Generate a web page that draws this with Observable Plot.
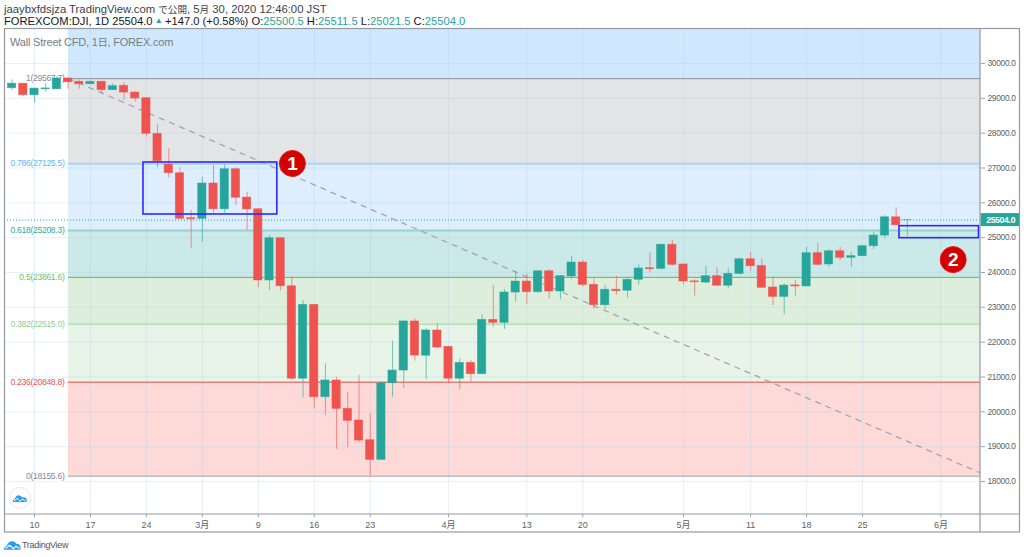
<!DOCTYPE html>
<html><head><meta charset="utf-8">
<script src="https://cdn.jsdelivr.net/npm/d3@7"></script>
<script src="https://cdn.jsdelivr.net/npm/@observablehq/plot@0.6"></script>
<style>
html,body{margin:0;padding:0;background:#fff;}
#wrap{position:relative;width:1024px;height:557px;overflow:hidden;font-family:"Liberation Sans","Noto Sans CJK JP",sans-serif;}
#wrap svg{position:absolute;left:0;top:0;}
.h{position:absolute;white-space:nowrap;}
.t{color:#26a69a;}
.j{font-size:9.6px;}
#chart g[aria-label="text"] text{letter-spacing:-0.3px;}
#chart g[aria-label="y-axis tick label"] text{letter-spacing:-0.3px;}
</style></head><body>
<div id="wrap">
<div class="h" style="left:4px;top:2px;font-size:11.3px;line-height:14px;color:#3c3f48;">jaaybxfdsjza TradingView.com <span class="j">で公開</span>, 5<span class="j">月</span> 30, 2020 12:46:00 JST</div>
<div class="h" style="left:4px;top:14px;font-size:11.2px;line-height:14px;color:#131722;">FOREXCOM:DJI, 1D 25504.0<span class="t" style="font-size:8px;vertical-align:2px;"> ▲ </span>+147.0 (+0.58%) O:<span class="t">25500.5</span> H:<span class="t">25511.5</span> L:<span class="t">25021.5</span> C:<span class="t">25504.0</span></div>
<div id="chart"></div>
<div class="h" style="left:10px;top:35px;font-size:11px;letter-spacing:-0.2px;line-height:14px;color:#787b86;z-index:3;">Wall Street CFD, 1<span style="font-size:10px">日</span>, FOREX.com</div>
<svg width="1024" height="557" style="z-index:3;pointer-events:none;">
  <g fill="none" stroke="#9598a1" stroke-width="1.2">
    <rect x="4.5" y="28.5" width="1015" height="503.5"/>
    <path d="M980 28.5V532M4.5 514H1019.5"/>
  </g>
  <circle cx="20" cy="498" r="10.5" fill="#fff" stroke="#e6e9ee"/>
  <path d="M12.7 502 q0 -2.5 2.2 -3.2 q1.2 -3.8 4.6 -3.4 q2 .2 2.8 2.2 q1.5 -.8 2.8 0 q2 1 1.8 4.4 z" fill="#2e9bf0"/>
  <path d="M14 501 l3.2 -2.6 3 2.8 2.2 -2.2 3 2" fill="none" stroke="#fff" stroke-width="1"/>
  <path d="M4 549.8 q-.2 -3 2.8 -4 q1.6 -5 6 -4.6 q2.6 .3 3.6 2.8 q1.6 -.6 2.8 .6 q1.6 1.6 1.4 5.2 z" fill="#2e9bf0"/>
  <path d="M5.5 548.5 l4 -3.2 3.8 3.4 2.6 -2.6 3.6 2.4" fill="none" stroke="#fff" stroke-width="1.1"/>
</svg>
<div class="h" style="left:22px;top:538px;font-size:9px;letter-spacing:-0.3px;line-height:14px;color:#50535e;">TradingView</div>
</div>
<script>
// Candles: trading-day index runs from -2 to 78
const firstIndex = -2;
const opens = [29290,29420,29090,29260,29260,29570,29475,29405,29475,29235,29360,29165,29005,27980,27100,26850,25560,25540,26555,25815,26965,26150,25815,23770,24985,23605,20950,23070,20420,20900,20085,19750,19185,18620,20820,21185,22595,21610,22335,21865,20950,21405,21080,22640,22555,23425,23740,23435,24035,23455,23885,24285,23645,23060,23505,23475,23790,24125,24105,24795,24230,23745,23710,23895,23620,23960,24380,24190,23570,23300,23630,23600,24555,24230,24610,24420,24470,24755,25060,25585,25500];
const closes = [29420,29090,29280,29285,29570,29460,29405,29475,29235,29350,29165,28995,27980,27195,26850,25540,25530,26555,25815,26965,26145,25810,23770,24985,23605,20950,23070,20420,20900,20085,19740,19175,18620,20820,21185,22595,21615,22335,21845,20950,21405,21080,22640,22555,23425,23740,23435,24035,23455,23895,24285,23645,23060,23505,23465,23790,24115,24095,24795,24220,23740,23720,23895,23620,23960,24380,24180,23560,23300,23625,23600,24555,24220,24610,24420,24470,24755,25060,25585,25355,25504];
const highs = [29530,29420,29280,29430,29620,29600,29530,29500,29480,29420,29445,29195,29010,28250,27550,27005,25780,26735,27080,27100,27005,26305,25830,25060,25000,23865,23195,23080,21380,20995,20545,21040,19945,20850,22030,22610,22670,22385,22545,21880,21520,21475,22785,23625,23505,24035,23960,24050,24085,23915,24460,24345,23820,23625,23895,23835,24220,24565,24810,24920,24240,23790,24180,24125,24105,24395,24575,24395,23865,23675,23770,24725,24840,24650,24725,24580,24770,25155,25635,25855,25511];
const lows = [29225,29050,28870,29180,29255,29260,29260,29390,29130,29225,28940,28890,27885,27015,26720,25520,24680,24870,25700,25700,25925,25205,23560,23480,23480,20900,20400,20085,19895,18920,18965,19100,18170,18610,20420,20660,21455,20930,21800,20805,20630,20850,21070,22430,22365,23140,23090,23390,23235,23215,23805,23580,22945,22935,23340,23260,23635,23990,24075,24190,23645,23320,23675,23600,23530,23940,24035,23540,23050,22795,23310,23590,24180,24150,24345,24150,24450,24660,24965,25350,25021];

// Fibonacci retracement
const fibRatios = ["1","0.786","0.618","0.5","0.382","0.236","0"];
const fibPrices = [29567.7,27125.5,25208.3,23861.6,22515.0,20848.8,18155.6];

// Axes
const priceTicks = [30000,29000,28000,27000,26000,25000,24000,23000,22000,21000,20000,19000,18000];
const timeTickIndex = [0,5,10,15,20,25,30,37,44,49,58,64,69,74,81];
const timeTickLabels = ["10","17","24","3月","9","16","23","4月","13","20","5月","11","18","25","6月"];

// Annotations, in chart coordinates
const lastPrice = 25504;
const trendFrom = {i:3.04, p:29567.7};
const trendTo = {i:84.5, p:18250};
const annotationBoxes = [{i1:9.74,i2:21.7,hi:27158,lo:25665},{i1:77.3,i2:84.4,hi:25330,lo:24985}];
const badges = [{i:23.05,p:27130,label:"1"},{i:82.1,p:24370,label:"2"}];

// ---- drawing ----
const xDomain = [-2.68,84.54];
const yDomain = [17052,31005];
const fibStart = 3.04;
const bandColors = ["#e3e4e6","#dfeefd","#cbe9e8","#ddefdc","#e7f4e7","#fdd9d8"];
const lineColors = {"1":"#9b9ea8","0.786":"#a9d4f7","0.618":"#92d3cc","0.5":"#6cc470","0.382":"#a4d8a6","0.236":"#ee7b78","0":"#a9a9b0"};
const labelColors = {"1":"#878a94","0.786":"#64b5f6","0.618":"#33a99e","0.5":"#6cbf70","0.382":"#8dcf90","0.236":"#ef5350","0":"#878a94"};
const up = "#26a69a", down = "#ef5350";

const bars = opens.map((o,k)=>({i:firstIndex+k,o,c:closes[k],h:highs[k],l:lows[k]}));
const bands = fibRatios.slice(0,-1).map((r,k)=>({hi:fibPrices[k],lo:fibPrices[k+1],fill:bandColors[k]}));
bands.unshift({hi:yDomain[1],lo:fibPrices[0],fill:"#cfe8fd"});
const fib = fibRatios.map((r,k)=>({r,p:fibPrices[k],label:`${r}(${fibPrices[k].toFixed(1)})`}));
const col = d=>d.c>=d.o?up:down;

const chart = Plot.plot({
  width:1024,height:557,
  marginLeft:4,marginRight:44,marginTop:28,marginBottom:43,
  style:{background:"transparent",fontFamily:'"Liberation Sans","Noto Sans CJK JP",sans-serif'},
  x:{type:"linear",domain:xDomain,axis:null},
  y:{type:"linear",domain:yDomain,axis:null},
  marks:[
    Plot.rect(bands,{x1:fibStart,x2:xDomain[1],y1:"lo",y2:"hi",fill:d=>d.fill}),
    Plot.ruleY(priceTicks,{stroke:"#a8cdee",strokeOpacity:0.3,strokeWidth:1}),
    Plot.ruleX(timeTickIndex,{stroke:"#a8cdee",strokeOpacity:0.3,strokeWidth:1}),
    Plot.ruleY(fib,{x1:fibStart,x2:xDomain[1],y:"p",stroke:d=>lineColors[d.r],strokeWidth:d=>d.r==="0.786"||d.r==="0.618"?2:1.3}),
    Plot.ruleY([lastPrice],{stroke:"#26a69a",strokeDasharray:"1,2",strokeWidth:1}),
    Plot.line([trendFrom,trendTo],{x:"i",y:"p",stroke:"#a3a5ad",strokeWidth:1.3,strokeDasharray:"5,6"}),
    Plot.text(fib,{x:2.68,y:"p",text:"label",textAnchor:"end",fontSize:8.6,fill:d=>labelColors[d.r]}),
    Plot.ruleX(bars,{x:"i",y1:"l",y2:"h",stroke:col,strokeWidth:1,strokeOpacity:0.62}),
    Plot.rect(bars,{x1:d=>d.i-0.37,x2:d=>d.i+0.37,y1:"o",y2:"c",fill:col,stroke:col,strokeWidth:0.8,strokeOpacity:0.6}),
    Plot.rect(annotationBoxes,{x1:"i1",x2:"i2",y1:"lo",y2:"hi",fill:"none",stroke:"#2a2aff",strokeWidth:1.6}),
    Plot.dot(badges,{x:"i",y:"p",r:13,fill:"#d40000",stroke:"#e21b1b",strokeWidth:1}),
    Plot.text(badges,{x:"i",y:"p",text:"label",fill:"#fff",fontSize:19,fontWeight:"bold"}),
    Plot.axisY(priceTicks,{anchor:"right",tickSize:4,tickPadding:3,fontSize:8.4,fill:"#5c5f68",stroke:"#a0a3ac",tickFormat:d=>d.toFixed(1),label:null}),
    Plot.axisX(timeTickIndex,{anchor:"bottom",tickSize:3,tickPadding:4,fontSize:9,fill:"#5c5f68",stroke:"#a0a3ac",tickFormat:d=>timeTickLabels[timeTickIndex.indexOf(d)],label:null}),
    // price tag
    Plot.rect([lastPrice],{x1:xDomain[1]+0.06,x2:xDomain[1]+3.54,y1:d=>d-187,y2:d=>d+187,fill:"#26a69a"}),
    Plot.text([lastPrice],{x:xDomain[1]+1.8,y:d=>d,text:d=>d.toFixed(1),fill:"#fff",fontSize:8.6,fontWeight:"bold"})
  ]
});
document.getElementById("chart").appendChild(chart);
</script>
</body></html>
